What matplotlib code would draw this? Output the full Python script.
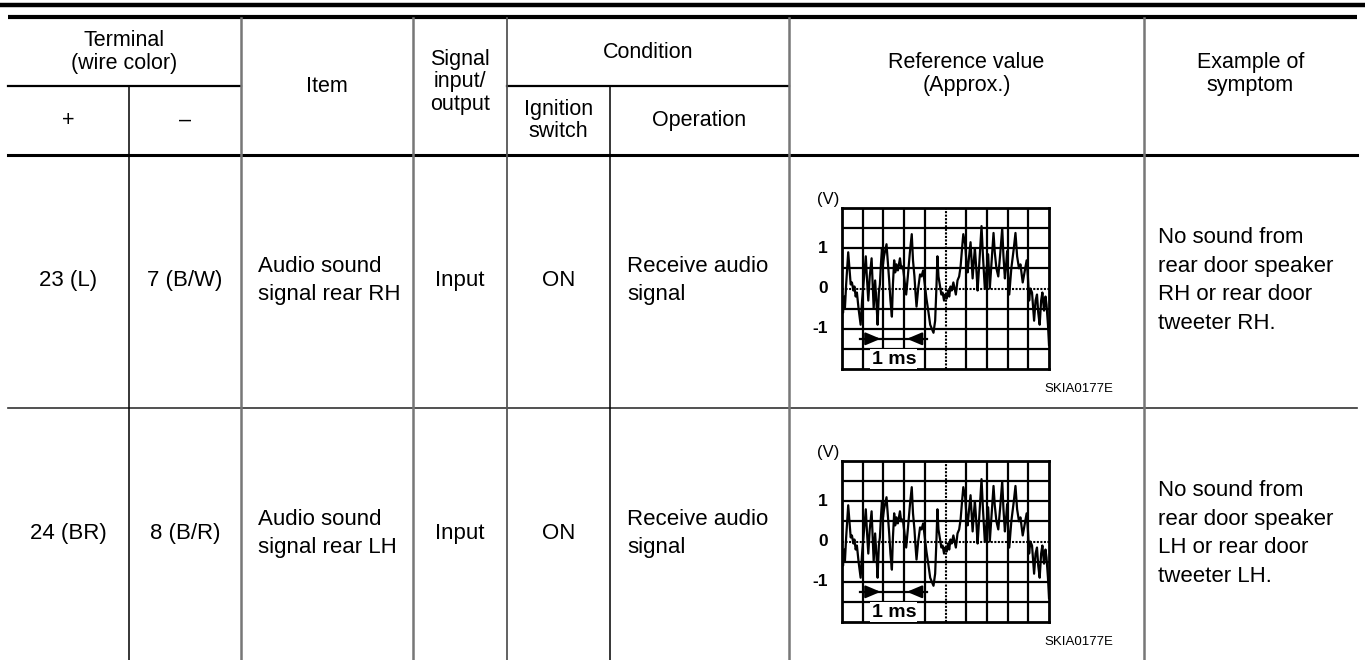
import matplotlib
matplotlib.use("Agg")
import matplotlib.pyplot as plt
import numpy as np

plt.rcParams['font.family'] = ['Liberation Sans', 'DejaVu Sans']

# table content
header_terminal = "Terminal\n(wire color)"
header_plus = "+"
header_minus = "\u2013"
header_item = "Item"
header_signal = "Signal\ninput/\noutput"
header_condition = "Condition"
header_ignition = "Ignition\nswitch"
header_operation = "Operation"
header_reference = "Reference value\n(Approx.)"
header_symptom = "Example of\nsymptom"

plus_terms = ["23 (L)", "24 (BR)"]
minus_terms = ["7 (B/W)", "8 (B/R)"]
items = ["Audio sound\nsignal rear RH", "Audio sound\nsignal rear LH"]
signal_io = ["Input", "Input"]
ignition = ["ON", "ON"]
operation = ["Receive audio\nsignal", "Receive audio\nsignal"]
symptoms = ["No sound from\nrear door speaker\nRH or rear door\ntweeter RH.",
            "No sound from\nrear door speaker\nLH or rear door\ntweeter LH."]
figure_code = "SKIA0177E"

# oscilloscope trace (time in divisions, volts)
wave_t = [0.00, 0.05, 0.10, 0.14, 0.20, 0.30, 0.36, 0.42, 0.48, 0.55,
          0.60, 0.66, 0.72, 0.80, 0.90, 0.97,
          1.05, 1.15, 1.20, 1.27, 1.34, 1.43, 1.48, 1.53, 1.60, 1.66,
          1.72, 1.78, 1.83, 1.88, 1.93,
          1.98, 2.03, 2.15, 2.22, 2.28, 2.34, 2.41, 2.46, 2.52, 2.57,
          2.63, 2.70, 2.80, 2.86, 2.94, 3.02, 3.10,
          3.18, 3.28, 3.37, 3.43, 3.50, 3.55, 3.60, 3.68, 3.77, 3.84,
          3.92, 4.00, 4.08,
          4.18, 4.26, 4.38, 4.42, 4.50, 4.56, 4.61, 4.66, 4.72, 4.80,
          4.86, 4.93, 4.98,
          5.06, 5.12, 5.18, 5.24, 5.30, 5.38, 5.50, 5.58, 5.66, 5.73,
          5.80, 5.86, 5.95, 6.02, 6.07,
          6.14, 6.21, 6.27, 6.31, 6.37, 6.42, 6.50, 6.55, 6.63, 6.74,
          6.81, 6.90, 6.97,
          7.06, 7.14, 7.22, 7.32, 7.38, 7.46, 7.55, 7.65, 7.74, 7.80,
          7.87, 7.93, 7.98,
          8.03, 8.08, 8.18, 8.30, 8.38, 8.46, 8.55, 8.62, 8.73, 8.80,
          8.92, 8.98,
          9.04, 9.10, 9.18, 9.28, 9.35, 9.42, 9.48, 9.55, 9.62, 9.68,
          9.76, 9.83, 9.88, 9.95, 10.00]
wave_v = [-0.30, -0.60, -0.20, -0.50, 0.10, 0.90, 0.50, 0.10, 0.15, -0.05,
          0.05, -0.20, -0.10, -0.50, -0.90, -0.30,
          0.20, 0.80, 0.30, -0.30, 0.30, 0.75, 0.10, -0.50, 0.20, -0.30,
          -0.90, -0.10, 0.10, 0.60, 1.00,
          0.60, 0.80, 1.10, 0.60, 0.20, -0.30, -0.70, 0.10, 0.70, 0.40,
          0.60, 0.45, 0.75, 0.50, 0.55, 0.20, -0.15,
          0.30, 0.90, 1.35, 0.70, 0.30, -0.10, -0.45, 0.00, 0.35, 0.30,
          0.45, 0.10, -0.25,
          -0.60, -0.90, -1.05, -1.10, -0.80, 0.00, 0.80, 0.30, 0.10, -0.15,
          -0.10, -0.30, -0.15,
          -0.25, -0.05, -0.20, 0.05, -0.05, 0.15, -0.15, 0.20, 0.30, 0.55,
          1.00, 1.35, 1.10, 0.60, 0.40,
          0.80, 1.15, 0.60, 0.25, 0.70, 1.00, 0.40, -0.05, 0.60, 1.55,
          0.80, 0.00, 0.40,
          0.85, 0.00, 0.60, 1.38, 0.90, 0.50, 0.30, 0.90, 1.50, 0.80,
          0.25, 0.60, 0.93,
          0.30, -0.15, 0.50, 1.00, 1.38, 0.80, 0.50, 0.60, 0.15, 0.35,
          0.70, 0.30,
          -0.30, 0.00, -0.10, -0.80, -0.30, -0.15, -0.60, -0.90, -0.30, -0.10,
          -0.55, -0.20, -0.40, -0.90, -1.40]
volt_ticks = [1, 0, -1]
volt_labels = ["1", "0", "-1"]

W, H = 1365, 660
fig = plt.figure(figsize=(W / 100, H / 100), dpi=100)
ax = fig.add_axes([0, 0, 1, 1])
ax.set_xlim(0, W)
ax.set_ylim(H, 0)
ax.axis("off")

# layout in pixels
col_x = [8, 129, 241, 413, 507, 610, 789, 1144, 1357]
y_top = 18
y_sub = 86
y_head = 155
row_h = 253

# rules
ax.plot([0, W], [5, 5], color="black", lw=3.2, solid_capstyle="butt")
ax.plot([col_x[0], col_x[-1]], [16.5, 16.5], color="black", lw=3.0, solid_capstyle="butt")
ax.plot([col_x[0], col_x[-1]], [y_head, y_head], color="black", lw=2.2)
ax.plot([col_x[0], col_x[2]], [y_sub, y_sub], color="black", lw=1.6)
ax.plot([col_x[4], col_x[6]], [y_sub, y_sub], color="black", lw=1.6)
ax.plot([col_x[0], col_x[-1]], [y_head + row_h, y_head + row_h], color="#333333", lw=1.2)

gray_cols = [col_x[2], col_x[3], col_x[6], col_x[7]]
for x in gray_cols:
    ax.plot([x, x], [y_top, H], color="#777777", lw=1.8)
ax.plot([col_x[4], col_x[4]], [y_top, H], color="#555555", lw=1.3)
ax.plot([col_x[1], col_x[1]], [y_sub, H], color="black", lw=1.1)
ax.plot([col_x[5], col_x[5]], [y_sub, H], color="black", lw=1.1)


def cx(i, j):
    return (col_x[i] + col_x[j]) / 2


head = dict(fontsize=15.5, linespacing=1.09, color="black", ha="center", va="center")
body = dict(fontsize=16, linespacing=1.46, color="black", va="center")
ax.text(cx(0, 2), (y_top + y_sub) / 2, header_terminal, **head)
ax.text(cx(0, 1), (y_sub + y_head) / 2, header_plus, **head)
ax.text(cx(1, 2), (y_sub + y_head) / 2, header_minus, **head)
ax.text(cx(2, 3), 86, header_item, **head)
ax.text(cx(3, 4), 82, header_signal, **head)
ax.text(cx(4, 6), (y_top + y_sub) / 2, header_condition, **head)
ax.text(cx(4, 5), (y_sub + y_head) / 2, header_ignition, **head)
ax.text(cx(5, 6), (y_sub + y_head) / 2, header_operation, **head)
ax.text(cx(6, 7), 74, header_reference, **head)
ax.text(cx(7, 8), 74, header_symptom, **head)

for r in range(len(plus_terms)):
    yc = y_head + row_h * r + row_h / 2 - 1
    ax.text(cx(0, 1), yc, plus_terms[r], ha="center", **body)
    ax.text(cx(1, 2), yc, minus_terms[r], ha="center", **body)
    ax.text(col_x[2] + 17, yc, items[r], ha="left", **body)
    ax.text(cx(3, 4), yc, signal_io[r], ha="center", **body)
    ax.text(cx(4, 5), yc, ignition[r], ha="center", **body)
    ax.text(col_x[5] + 17, yc, operation[r], ha="left", **body)
    ax.text(col_x[7] + 14, yc, symptoms[r], ha="left", **body)
    ax.text(1079, y_head + row_h * r + 234, figure_code, ha="center", va="center",
            fontsize=9.5)

    # scope screen
    gx0, gx1 = 842, 1049
    gy0 = y_head + row_h * r + 53
    gy1 = gy0 + 161
    sc = fig.add_axes([gx0 / W, 1 - gy1 / H, (gx1 - gx0) / W, (gy1 - gy0) / H])
    sc.set_xlim(0, 10)
    sc.set_ylim(-2, 2)
    sc.set_xticks([])
    sc.set_yticks([])
    for s in sc.spines.values():
        s.set_linewidth(2.0)
    for gx in range(1, 10):
        if gx != 5:
            sc.axvline(gx, color="black", lw=1.6)
    for gy in np.arange(-1.5, 2.0, 0.5):
        if gy != 0:
            sc.axhline(gy, color="black", lw=1.6)
    sc.axvline(5, color="black", lw=1.5, ls=(0, (1.0, 0.7)))
    sc.axhline(0, color="black", lw=1.5, ls=(0, (1.0, 0.7)))
    sc.plot(wave_t, wave_v, color="black", lw=1.6, clip_on=True, zorder=3)

    # 1 ms marker
    sc.plot([0.85, 4.1], [-1.25, -1.25], color="black", lw=1.6, zorder=4)
    for tip, tail in [(2.0, 1.3), (3.0, 3.7)]:
        sc.annotate("", xy=(tip, -1.25), xytext=(tail, -1.25),
                    arrowprops=dict(arrowstyle="-|>,head_length=0.9,head_width=0.38",
                                    color="black", lw=1.6), zorder=4)
    sc.text(2.5, -1.76, "1 ms", ha="center", va="center", fontsize=14,
            fontweight="bold", zorder=5,
            bbox=dict(facecolor="white", edgecolor="none", pad=1.0))

    for v, lab in zip(volt_ticks, volt_labels):
        sc.text(-0.7, v, lab, ha="right", va="center", fontsize=12.5,
                fontweight="bold", clip_on=False)
    sc.text(-0.15, 2.22, "(V)", ha="right", va="center", fontsize=12, clip_on=False)

fig.savefig("out.png", dpi=100)
